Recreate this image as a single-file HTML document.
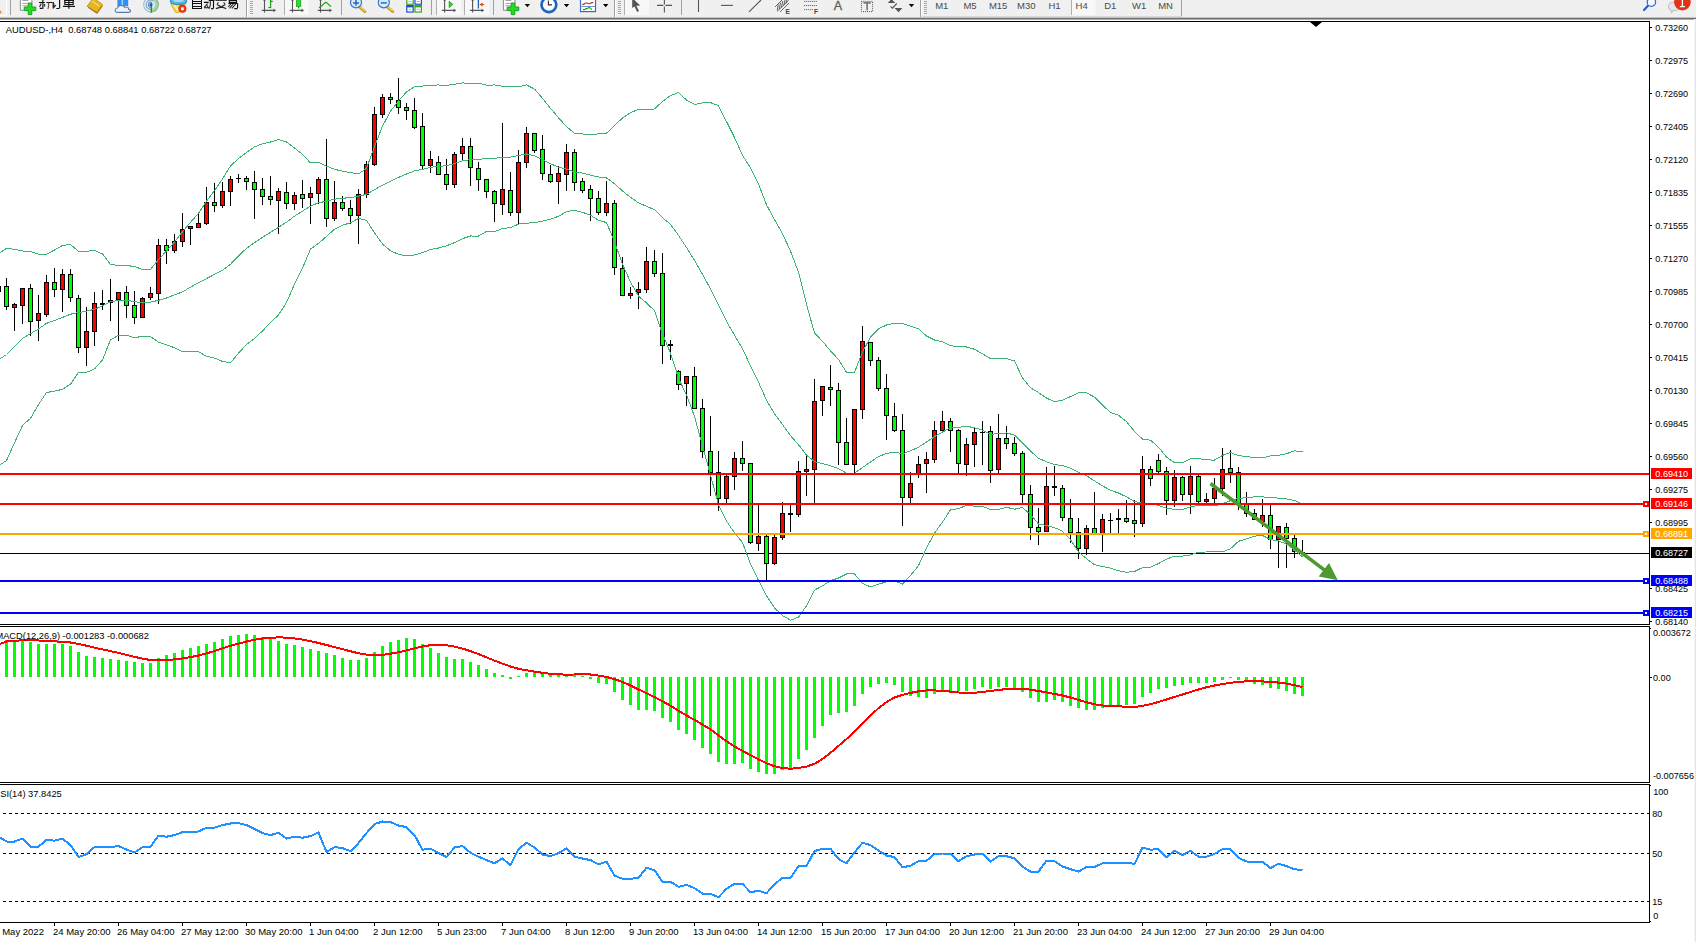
<!DOCTYPE html><html><head><meta charset="utf-8"><style>html,body{margin:0;padding:0;background:#fff}body{width:1696px;height:942px;overflow:hidden;position:relative;font-family:"Liberation Sans",sans-serif}</style></head><body><svg width="1696" height="942" viewBox="0 0 1696 942" style="position:absolute;left:0;top:0;font-family:'Liberation Sans',sans-serif">
<rect x="0" y="0" width="1696" height="942" fill="#fff"/>
<defs><clipPath id="cm"><rect x="0" y="22" width="1649" height="602"/></clipPath><clipPath id="cmacd"><rect x="0" y="627" width="1649" height="155"/></clipPath><clipPath id="ctb"><rect x="0" y="0" width="1696" height="17"/></clipPath><clipPath id="crsi"><rect x="0" y="785" width="1649" height="137"/></clipPath></defs>
<g clip-path="url(#cm)">
<rect x="0" y="553" width="1649" height="1" fill="#000" shape-rendering="crispEdges"/>
<g shape-rendering="crispEdges">
<rect x="0" y="286" width="1" height="6" fill="#000"/>
<rect x="6" y="278" width="1" height="32" fill="#000"/>
<rect x="4" y="286" width="5" height="21" fill="#000"/>
<rect x="5" y="287" width="3" height="19" fill="#00ff00"/>
<rect x="14" y="303" width="1" height="28" fill="#000"/>
<rect x="12" y="304" width="5" height="4" fill="#000"/>
<rect x="13" y="305" width="3" height="2" fill="#ff0000"/>
<rect x="22" y="288" width="1" height="36" fill="#000"/>
<rect x="20" y="288" width="5" height="18" fill="#000"/>
<rect x="21" y="289" width="3" height="16" fill="#ff0000"/>
<rect x="30" y="284" width="1" height="52" fill="#000"/>
<rect x="28" y="288" width="5" height="34" fill="#000"/>
<rect x="29" y="289" width="3" height="32" fill="#00ff00"/>
<rect x="38" y="295" width="1" height="46" fill="#000"/>
<rect x="36" y="313" width="5" height="8" fill="#000"/>
<rect x="37" y="314" width="3" height="6" fill="#ff0000"/>
<rect x="46" y="275" width="1" height="42" fill="#000"/>
<rect x="44" y="282" width="5" height="33" fill="#000"/>
<rect x="45" y="283" width="3" height="31" fill="#ff0000"/>
<rect x="54" y="268" width="1" height="29" fill="#000"/>
<rect x="52" y="282" width="5" height="8" fill="#000"/>
<rect x="53" y="283" width="3" height="6" fill="#00ff00"/>
<rect x="62" y="269" width="1" height="43" fill="#000"/>
<rect x="60" y="274" width="5" height="16" fill="#000"/>
<rect x="61" y="275" width="3" height="14" fill="#ff0000"/>
<rect x="70" y="269" width="1" height="33" fill="#000"/>
<rect x="68" y="274" width="5" height="24" fill="#000"/>
<rect x="69" y="275" width="3" height="22" fill="#00ff00"/>
<rect x="78" y="295" width="1" height="58" fill="#000"/>
<rect x="76" y="298" width="5" height="50" fill="#000"/>
<rect x="77" y="299" width="3" height="48" fill="#00ff00"/>
<rect x="86" y="307" width="1" height="59" fill="#000"/>
<rect x="84" y="331" width="5" height="17" fill="#000"/>
<rect x="85" y="332" width="3" height="15" fill="#ff0000"/>
<rect x="94" y="292" width="1" height="54" fill="#000"/>
<rect x="92" y="303" width="5" height="29" fill="#000"/>
<rect x="93" y="304" width="3" height="27" fill="#ff0000"/>
<rect x="102" y="290" width="1" height="20" fill="#000"/>
<rect x="100" y="303" width="5" height="2" fill="#000"/>
<rect x="110" y="279" width="1" height="42" fill="#000"/>
<rect x="108" y="300" width="5" height="3" fill="#000"/>
<rect x="109" y="301" width="3" height="1" fill="#ff0000"/>
<rect x="118" y="292" width="1" height="49" fill="#000"/>
<rect x="116" y="292" width="5" height="8" fill="#000"/>
<rect x="117" y="293" width="3" height="6" fill="#ff0000"/>
<rect x="126" y="286" width="1" height="32" fill="#000"/>
<rect x="124" y="292" width="5" height="14" fill="#000"/>
<rect x="125" y="293" width="3" height="12" fill="#00ff00"/>
<rect x="134" y="291" width="1" height="33" fill="#000"/>
<rect x="132" y="305" width="5" height="13" fill="#000"/>
<rect x="133" y="306" width="3" height="11" fill="#00ff00"/>
<rect x="142" y="297" width="1" height="21" fill="#000"/>
<rect x="140" y="298" width="5" height="20" fill="#000"/>
<rect x="141" y="299" width="3" height="18" fill="#ff0000"/>
<rect x="150" y="287" width="1" height="13" fill="#000"/>
<rect x="148" y="293" width="5" height="5" fill="#000"/>
<rect x="149" y="294" width="3" height="3" fill="#ff0000"/>
<rect x="158" y="239" width="1" height="65" fill="#000"/>
<rect x="156" y="245" width="5" height="49" fill="#000"/>
<rect x="157" y="246" width="3" height="47" fill="#ff0000"/>
<rect x="166" y="239" width="1" height="25" fill="#000"/>
<rect x="164" y="245" width="5" height="6" fill="#000"/>
<rect x="165" y="246" width="3" height="4" fill="#00ff00"/>
<rect x="174" y="234" width="1" height="19" fill="#000"/>
<rect x="172" y="241" width="5" height="10" fill="#000"/>
<rect x="173" y="242" width="3" height="8" fill="#ff0000"/>
<rect x="182" y="213" width="1" height="34" fill="#000"/>
<rect x="180" y="229" width="5" height="13" fill="#000"/>
<rect x="181" y="230" width="3" height="11" fill="#ff0000"/>
<rect x="190" y="226" width="1" height="19" fill="#000"/>
<rect x="188" y="226" width="5" height="3" fill="#000"/>
<rect x="189" y="227" width="3" height="1" fill="#ff0000"/>
<rect x="198" y="214" width="1" height="14" fill="#000"/>
<rect x="196" y="223" width="5" height="5" fill="#000"/>
<rect x="197" y="224" width="3" height="3" fill="#ff0000"/>
<rect x="206" y="187" width="1" height="38" fill="#000"/>
<rect x="204" y="202" width="5" height="22" fill="#000"/>
<rect x="205" y="203" width="3" height="20" fill="#ff0000"/>
<rect x="214" y="183" width="1" height="29" fill="#000"/>
<rect x="212" y="202" width="5" height="4" fill="#000"/>
<rect x="213" y="203" width="3" height="2" fill="#00ff00"/>
<rect x="222" y="182" width="1" height="26" fill="#000"/>
<rect x="220" y="191" width="5" height="15" fill="#000"/>
<rect x="221" y="192" width="3" height="13" fill="#ff0000"/>
<rect x="230" y="176" width="1" height="30" fill="#000"/>
<rect x="228" y="179" width="5" height="13" fill="#000"/>
<rect x="229" y="180" width="3" height="11" fill="#ff0000"/>
<rect x="238" y="174" width="1" height="9" fill="#000"/>
<rect x="236" y="178" width="5" height="1" fill="#000"/>
<rect x="246" y="176" width="1" height="14" fill="#000"/>
<rect x="244" y="178" width="5" height="4" fill="#000"/>
<rect x="245" y="179" width="3" height="2" fill="#00ff00"/>
<rect x="254" y="171" width="1" height="48" fill="#000"/>
<rect x="252" y="182" width="5" height="8" fill="#000"/>
<rect x="253" y="183" width="3" height="6" fill="#00ff00"/>
<rect x="262" y="178" width="1" height="27" fill="#000"/>
<rect x="260" y="189" width="5" height="8" fill="#000"/>
<rect x="261" y="190" width="3" height="6" fill="#00ff00"/>
<rect x="270" y="176" width="1" height="29" fill="#000"/>
<rect x="268" y="196" width="5" height="4" fill="#000"/>
<rect x="269" y="197" width="3" height="2" fill="#00ff00"/>
<rect x="278" y="188" width="1" height="46" fill="#000"/>
<rect x="276" y="191" width="5" height="10" fill="#000"/>
<rect x="277" y="192" width="3" height="8" fill="#ff0000"/>
<rect x="286" y="182" width="1" height="27" fill="#000"/>
<rect x="284" y="192" width="5" height="12" fill="#000"/>
<rect x="285" y="193" width="3" height="10" fill="#00ff00"/>
<rect x="294" y="192" width="1" height="18" fill="#000"/>
<rect x="292" y="195" width="5" height="9" fill="#000"/>
<rect x="293" y="196" width="3" height="7" fill="#ff0000"/>
<rect x="302" y="180" width="1" height="28" fill="#000"/>
<rect x="300" y="194" width="5" height="5" fill="#000"/>
<rect x="301" y="195" width="3" height="3" fill="#00ff00"/>
<rect x="310" y="187" width="1" height="37" fill="#000"/>
<rect x="308" y="193" width="5" height="5" fill="#000"/>
<rect x="309" y="194" width="3" height="3" fill="#ff0000"/>
<rect x="318" y="177" width="1" height="27" fill="#000"/>
<rect x="316" y="179" width="5" height="15" fill="#000"/>
<rect x="317" y="180" width="3" height="13" fill="#ff0000"/>
<rect x="326" y="139" width="1" height="88" fill="#000"/>
<rect x="324" y="179" width="5" height="40" fill="#000"/>
<rect x="325" y="180" width="3" height="38" fill="#00ff00"/>
<rect x="334" y="181" width="1" height="40" fill="#000"/>
<rect x="332" y="202" width="5" height="17" fill="#000"/>
<rect x="333" y="203" width="3" height="15" fill="#ff0000"/>
<rect x="342" y="196" width="1" height="15" fill="#000"/>
<rect x="340" y="202" width="5" height="7" fill="#000"/>
<rect x="341" y="203" width="3" height="5" fill="#00ff00"/>
<rect x="350" y="200" width="1" height="24" fill="#000"/>
<rect x="348" y="208" width="5" height="8" fill="#000"/>
<rect x="349" y="209" width="3" height="6" fill="#00ff00"/>
<rect x="358" y="189" width="1" height="55" fill="#000"/>
<rect x="356" y="194" width="5" height="22" fill="#000"/>
<rect x="357" y="195" width="3" height="20" fill="#ff0000"/>
<rect x="366" y="161" width="1" height="37" fill="#000"/>
<rect x="364" y="164" width="5" height="31" fill="#000"/>
<rect x="365" y="165" width="3" height="29" fill="#ff0000"/>
<rect x="374" y="107" width="1" height="59" fill="#000"/>
<rect x="372" y="114" width="5" height="51" fill="#000"/>
<rect x="373" y="115" width="3" height="49" fill="#ff0000"/>
<rect x="382" y="94" width="1" height="24" fill="#000"/>
<rect x="380" y="97" width="5" height="18" fill="#000"/>
<rect x="381" y="98" width="3" height="16" fill="#ff0000"/>
<rect x="390" y="93" width="1" height="11" fill="#000"/>
<rect x="388" y="97" width="5" height="3" fill="#000"/>
<rect x="389" y="98" width="3" height="1" fill="#00ff00"/>
<rect x="398" y="78" width="1" height="36" fill="#000"/>
<rect x="396" y="100" width="5" height="8" fill="#000"/>
<rect x="397" y="101" width="3" height="6" fill="#00ff00"/>
<rect x="406" y="103" width="1" height="17" fill="#000"/>
<rect x="404" y="107" width="5" height="4" fill="#000"/>
<rect x="405" y="108" width="3" height="2" fill="#00ff00"/>
<rect x="414" y="98" width="1" height="31" fill="#000"/>
<rect x="412" y="110" width="5" height="18" fill="#000"/>
<rect x="413" y="111" width="3" height="16" fill="#00ff00"/>
<rect x="422" y="113" width="1" height="56" fill="#000"/>
<rect x="420" y="126" width="5" height="40" fill="#000"/>
<rect x="421" y="127" width="3" height="38" fill="#00ff00"/>
<rect x="430" y="151" width="1" height="22" fill="#000"/>
<rect x="428" y="159" width="5" height="7" fill="#000"/>
<rect x="429" y="160" width="3" height="5" fill="#ff0000"/>
<rect x="438" y="156" width="1" height="19" fill="#000"/>
<rect x="436" y="162" width="5" height="13" fill="#000"/>
<rect x="437" y="163" width="3" height="11" fill="#00ff00"/>
<rect x="446" y="159" width="1" height="31" fill="#000"/>
<rect x="444" y="174" width="5" height="11" fill="#000"/>
<rect x="445" y="175" width="3" height="9" fill="#00ff00"/>
<rect x="454" y="152" width="1" height="36" fill="#000"/>
<rect x="452" y="154" width="5" height="31" fill="#000"/>
<rect x="453" y="155" width="3" height="29" fill="#ff0000"/>
<rect x="462" y="138" width="1" height="22" fill="#000"/>
<rect x="460" y="146" width="5" height="8" fill="#000"/>
<rect x="461" y="147" width="3" height="6" fill="#ff0000"/>
<rect x="470" y="138" width="1" height="48" fill="#000"/>
<rect x="468" y="146" width="5" height="22" fill="#000"/>
<rect x="469" y="147" width="3" height="20" fill="#00ff00"/>
<rect x="478" y="162" width="1" height="29" fill="#000"/>
<rect x="476" y="168" width="5" height="12" fill="#000"/>
<rect x="477" y="169" width="3" height="10" fill="#00ff00"/>
<rect x="486" y="179" width="1" height="19" fill="#000"/>
<rect x="484" y="179" width="5" height="13" fill="#000"/>
<rect x="485" y="180" width="3" height="11" fill="#00ff00"/>
<rect x="494" y="190" width="1" height="32" fill="#000"/>
<rect x="492" y="191" width="5" height="13" fill="#000"/>
<rect x="493" y="192" width="3" height="11" fill="#00ff00"/>
<rect x="502" y="123" width="1" height="92" fill="#000"/>
<rect x="500" y="189" width="5" height="16" fill="#000"/>
<rect x="501" y="190" width="3" height="14" fill="#ff0000"/>
<rect x="510" y="172" width="1" height="44" fill="#000"/>
<rect x="508" y="190" width="5" height="23" fill="#000"/>
<rect x="509" y="191" width="3" height="21" fill="#00ff00"/>
<rect x="518" y="150" width="1" height="75" fill="#000"/>
<rect x="516" y="162" width="5" height="51" fill="#000"/>
<rect x="517" y="163" width="3" height="49" fill="#ff0000"/>
<rect x="526" y="127" width="1" height="41" fill="#000"/>
<rect x="524" y="133" width="5" height="30" fill="#000"/>
<rect x="525" y="134" width="3" height="28" fill="#ff0000"/>
<rect x="534" y="133" width="1" height="20" fill="#000"/>
<rect x="532" y="133" width="5" height="18" fill="#000"/>
<rect x="533" y="134" width="3" height="16" fill="#00ff00"/>
<rect x="542" y="135" width="1" height="45" fill="#000"/>
<rect x="540" y="149" width="5" height="25" fill="#000"/>
<rect x="541" y="150" width="3" height="23" fill="#00ff00"/>
<rect x="550" y="165" width="1" height="18" fill="#000"/>
<rect x="548" y="174" width="5" height="8" fill="#000"/>
<rect x="549" y="175" width="3" height="6" fill="#00ff00"/>
<rect x="558" y="166" width="1" height="38" fill="#000"/>
<rect x="556" y="173" width="5" height="9" fill="#000"/>
<rect x="557" y="174" width="3" height="7" fill="#ff0000"/>
<rect x="566" y="144" width="1" height="47" fill="#000"/>
<rect x="564" y="152" width="5" height="23" fill="#000"/>
<rect x="565" y="153" width="3" height="21" fill="#ff0000"/>
<rect x="574" y="149" width="1" height="42" fill="#000"/>
<rect x="572" y="152" width="5" height="31" fill="#000"/>
<rect x="573" y="153" width="3" height="29" fill="#00ff00"/>
<rect x="582" y="178" width="1" height="15" fill="#000"/>
<rect x="580" y="181" width="5" height="10" fill="#000"/>
<rect x="581" y="182" width="3" height="8" fill="#00ff00"/>
<rect x="590" y="185" width="1" height="36" fill="#000"/>
<rect x="588" y="189" width="5" height="10" fill="#000"/>
<rect x="589" y="190" width="3" height="8" fill="#00ff00"/>
<rect x="598" y="191" width="1" height="24" fill="#000"/>
<rect x="596" y="198" width="5" height="15" fill="#000"/>
<rect x="597" y="199" width="3" height="13" fill="#00ff00"/>
<rect x="606" y="181" width="1" height="35" fill="#000"/>
<rect x="604" y="203" width="5" height="10" fill="#000"/>
<rect x="605" y="204" width="3" height="8" fill="#ff0000"/>
<rect x="614" y="200" width="1" height="75" fill="#000"/>
<rect x="612" y="203" width="5" height="65" fill="#000"/>
<rect x="613" y="204" width="3" height="63" fill="#00ff00"/>
<rect x="622" y="257" width="1" height="39" fill="#000"/>
<rect x="620" y="268" width="5" height="28" fill="#000"/>
<rect x="621" y="269" width="3" height="26" fill="#00ff00"/>
<rect x="630" y="287" width="1" height="12" fill="#000"/>
<rect x="628" y="293" width="5" height="3" fill="#000"/>
<rect x="629" y="294" width="3" height="1" fill="#ff0000"/>
<rect x="638" y="282" width="1" height="27" fill="#000"/>
<rect x="636" y="289" width="5" height="4" fill="#000"/>
<rect x="637" y="290" width="3" height="2" fill="#ff0000"/>
<rect x="646" y="247" width="1" height="46" fill="#000"/>
<rect x="644" y="261" width="5" height="29" fill="#000"/>
<rect x="645" y="262" width="3" height="27" fill="#ff0000"/>
<rect x="654" y="250" width="1" height="27" fill="#000"/>
<rect x="652" y="261" width="5" height="13" fill="#000"/>
<rect x="653" y="262" width="3" height="11" fill="#00ff00"/>
<rect x="662" y="253" width="1" height="111" fill="#000"/>
<rect x="660" y="273" width="5" height="73" fill="#000"/>
<rect x="661" y="274" width="3" height="71" fill="#00ff00"/>
<rect x="670" y="340" width="1" height="20" fill="#000"/>
<rect x="668" y="344" width="5" height="2" fill="#000"/>
<rect x="678" y="370" width="1" height="20" fill="#000"/>
<rect x="676" y="371" width="5" height="14" fill="#000"/>
<rect x="677" y="372" width="3" height="12" fill="#00ff00"/>
<rect x="686" y="376" width="1" height="30" fill="#000"/>
<rect x="684" y="376" width="5" height="8" fill="#000"/>
<rect x="685" y="377" width="3" height="6" fill="#ff0000"/>
<rect x="694" y="367" width="1" height="42" fill="#000"/>
<rect x="692" y="376" width="5" height="33" fill="#000"/>
<rect x="693" y="377" width="3" height="31" fill="#00ff00"/>
<rect x="702" y="399" width="1" height="59" fill="#000"/>
<rect x="700" y="408" width="5" height="44" fill="#000"/>
<rect x="701" y="409" width="3" height="42" fill="#00ff00"/>
<rect x="710" y="416" width="1" height="80" fill="#000"/>
<rect x="708" y="451" width="5" height="22" fill="#000"/>
<rect x="709" y="452" width="3" height="20" fill="#00ff00"/>
<rect x="718" y="451" width="1" height="60" fill="#000"/>
<rect x="716" y="472" width="5" height="27" fill="#000"/>
<rect x="717" y="473" width="3" height="25" fill="#00ff00"/>
<rect x="726" y="475" width="1" height="28" fill="#000"/>
<rect x="724" y="476" width="5" height="23" fill="#000"/>
<rect x="725" y="477" width="3" height="21" fill="#ff0000"/>
<rect x="734" y="452" width="1" height="38" fill="#000"/>
<rect x="732" y="458" width="5" height="19" fill="#000"/>
<rect x="733" y="459" width="3" height="17" fill="#ff0000"/>
<rect x="742" y="441" width="1" height="30" fill="#000"/>
<rect x="740" y="458" width="5" height="6" fill="#000"/>
<rect x="741" y="459" width="3" height="4" fill="#00ff00"/>
<rect x="750" y="463" width="1" height="81" fill="#000"/>
<rect x="748" y="463" width="5" height="80" fill="#000"/>
<rect x="749" y="464" width="3" height="78" fill="#00ff00"/>
<rect x="758" y="505" width="1" height="46" fill="#000"/>
<rect x="756" y="536" width="5" height="8" fill="#000"/>
<rect x="757" y="537" width="3" height="6" fill="#ff0000"/>
<rect x="766" y="535" width="1" height="45" fill="#000"/>
<rect x="764" y="536" width="5" height="28" fill="#000"/>
<rect x="765" y="537" width="3" height="26" fill="#00ff00"/>
<rect x="774" y="535" width="1" height="30" fill="#000"/>
<rect x="772" y="537" width="5" height="27" fill="#000"/>
<rect x="773" y="538" width="3" height="25" fill="#ff0000"/>
<rect x="782" y="502" width="1" height="38" fill="#000"/>
<rect x="780" y="513" width="5" height="25" fill="#000"/>
<rect x="781" y="514" width="3" height="23" fill="#ff0000"/>
<rect x="790" y="505" width="1" height="27" fill="#000"/>
<rect x="788" y="513" width="5" height="2" fill="#000"/>
<rect x="798" y="461" width="1" height="56" fill="#000"/>
<rect x="796" y="471" width="5" height="44" fill="#000"/>
<rect x="797" y="472" width="3" height="42" fill="#ff0000"/>
<rect x="806" y="454" width="1" height="42" fill="#000"/>
<rect x="804" y="469" width="5" height="3" fill="#000"/>
<rect x="805" y="470" width="3" height="1" fill="#ff0000"/>
<rect x="814" y="379" width="1" height="124" fill="#000"/>
<rect x="812" y="401" width="5" height="69" fill="#000"/>
<rect x="813" y="402" width="3" height="67" fill="#ff0000"/>
<rect x="822" y="386" width="1" height="30" fill="#000"/>
<rect x="820" y="386" width="5" height="15" fill="#000"/>
<rect x="821" y="387" width="3" height="13" fill="#ff0000"/>
<rect x="830" y="365" width="1" height="41" fill="#000"/>
<rect x="828" y="387" width="5" height="3" fill="#000"/>
<rect x="829" y="388" width="3" height="1" fill="#00ff00"/>
<rect x="838" y="383" width="1" height="82" fill="#000"/>
<rect x="836" y="390" width="5" height="53" fill="#000"/>
<rect x="837" y="391" width="3" height="51" fill="#00ff00"/>
<rect x="846" y="418" width="1" height="47" fill="#000"/>
<rect x="844" y="442" width="5" height="23" fill="#000"/>
<rect x="845" y="443" width="3" height="21" fill="#00ff00"/>
<rect x="854" y="409" width="1" height="64" fill="#000"/>
<rect x="852" y="409" width="5" height="56" fill="#000"/>
<rect x="853" y="410" width="3" height="54" fill="#ff0000"/>
<rect x="862" y="326" width="1" height="93" fill="#000"/>
<rect x="860" y="341" width="5" height="69" fill="#000"/>
<rect x="861" y="342" width="3" height="67" fill="#ff0000"/>
<rect x="870" y="342" width="1" height="24" fill="#000"/>
<rect x="868" y="342" width="5" height="19" fill="#000"/>
<rect x="869" y="343" width="3" height="17" fill="#00ff00"/>
<rect x="878" y="357" width="1" height="34" fill="#000"/>
<rect x="876" y="360" width="5" height="29" fill="#000"/>
<rect x="877" y="361" width="3" height="27" fill="#00ff00"/>
<rect x="886" y="374" width="1" height="66" fill="#000"/>
<rect x="884" y="388" width="5" height="28" fill="#000"/>
<rect x="885" y="389" width="3" height="26" fill="#00ff00"/>
<rect x="894" y="403" width="1" height="29" fill="#000"/>
<rect x="892" y="416" width="5" height="15" fill="#000"/>
<rect x="893" y="417" width="3" height="13" fill="#00ff00"/>
<rect x="902" y="414" width="1" height="112" fill="#000"/>
<rect x="900" y="430" width="5" height="68" fill="#000"/>
<rect x="901" y="431" width="3" height="66" fill="#00ff00"/>
<rect x="910" y="472" width="1" height="31" fill="#000"/>
<rect x="908" y="483" width="5" height="15" fill="#000"/>
<rect x="909" y="484" width="3" height="13" fill="#ff0000"/>
<rect x="918" y="456" width="1" height="22" fill="#000"/>
<rect x="916" y="464" width="5" height="10" fill="#000"/>
<rect x="917" y="465" width="3" height="8" fill="#ff0000"/>
<rect x="926" y="452" width="1" height="41" fill="#000"/>
<rect x="924" y="459" width="5" height="5" fill="#000"/>
<rect x="925" y="460" width="3" height="3" fill="#ff0000"/>
<rect x="934" y="421" width="1" height="42" fill="#000"/>
<rect x="932" y="430" width="5" height="30" fill="#000"/>
<rect x="933" y="431" width="3" height="28" fill="#ff0000"/>
<rect x="942" y="411" width="1" height="21" fill="#000"/>
<rect x="940" y="421" width="5" height="10" fill="#000"/>
<rect x="941" y="422" width="3" height="8" fill="#ff0000"/>
<rect x="950" y="418" width="1" height="34" fill="#000"/>
<rect x="948" y="421" width="5" height="10" fill="#000"/>
<rect x="949" y="422" width="3" height="8" fill="#00ff00"/>
<rect x="958" y="429" width="1" height="45" fill="#000"/>
<rect x="956" y="430" width="5" height="34" fill="#000"/>
<rect x="957" y="431" width="3" height="32" fill="#00ff00"/>
<rect x="966" y="438" width="1" height="38" fill="#000"/>
<rect x="964" y="444" width="5" height="21" fill="#000"/>
<rect x="965" y="445" width="3" height="19" fill="#ff0000"/>
<rect x="974" y="428" width="1" height="39" fill="#000"/>
<rect x="972" y="432" width="5" height="13" fill="#000"/>
<rect x="973" y="433" width="3" height="11" fill="#ff0000"/>
<rect x="982" y="421" width="1" height="44" fill="#000"/>
<rect x="980" y="432" width="5" height="1" fill="#000"/>
<rect x="990" y="426" width="1" height="57" fill="#000"/>
<rect x="988" y="431" width="5" height="40" fill="#000"/>
<rect x="989" y="432" width="3" height="38" fill="#00ff00"/>
<rect x="998" y="414" width="1" height="59" fill="#000"/>
<rect x="996" y="438" width="5" height="32" fill="#000"/>
<rect x="997" y="439" width="3" height="30" fill="#ff0000"/>
<rect x="1006" y="426" width="1" height="23" fill="#000"/>
<rect x="1004" y="438" width="5" height="6" fill="#000"/>
<rect x="1005" y="439" width="3" height="4" fill="#00ff00"/>
<rect x="1014" y="437" width="1" height="19" fill="#000"/>
<rect x="1012" y="443" width="5" height="11" fill="#000"/>
<rect x="1013" y="444" width="3" height="9" fill="#00ff00"/>
<rect x="1022" y="451" width="1" height="52" fill="#000"/>
<rect x="1020" y="453" width="5" height="42" fill="#000"/>
<rect x="1021" y="454" width="3" height="40" fill="#00ff00"/>
<rect x="1030" y="485" width="1" height="55" fill="#000"/>
<rect x="1028" y="494" width="5" height="34" fill="#000"/>
<rect x="1029" y="495" width="3" height="32" fill="#00ff00"/>
<rect x="1038" y="508" width="1" height="37" fill="#000"/>
<rect x="1036" y="527" width="5" height="5" fill="#000"/>
<rect x="1037" y="528" width="3" height="3" fill="#00ff00"/>
<rect x="1046" y="467" width="1" height="65" fill="#000"/>
<rect x="1044" y="486" width="5" height="46" fill="#000"/>
<rect x="1045" y="487" width="3" height="44" fill="#ff0000"/>
<rect x="1054" y="466" width="1" height="30" fill="#000"/>
<rect x="1052" y="486" width="5" height="2" fill="#000"/>
<rect x="1062" y="485" width="1" height="36" fill="#000"/>
<rect x="1060" y="488" width="5" height="30" fill="#000"/>
<rect x="1061" y="489" width="3" height="28" fill="#00ff00"/>
<rect x="1070" y="499" width="1" height="44" fill="#000"/>
<rect x="1068" y="518" width="5" height="15" fill="#000"/>
<rect x="1069" y="519" width="3" height="13" fill="#00ff00"/>
<rect x="1078" y="518" width="1" height="41" fill="#000"/>
<rect x="1076" y="532" width="5" height="17" fill="#000"/>
<rect x="1077" y="533" width="3" height="15" fill="#00ff00"/>
<rect x="1086" y="525" width="1" height="30" fill="#000"/>
<rect x="1084" y="528" width="5" height="21" fill="#000"/>
<rect x="1085" y="529" width="3" height="19" fill="#ff0000"/>
<rect x="1094" y="492" width="1" height="42" fill="#000"/>
<rect x="1092" y="528" width="5" height="6" fill="#000"/>
<rect x="1093" y="529" width="3" height="4" fill="#00ff00"/>
<rect x="1102" y="514" width="1" height="38" fill="#000"/>
<rect x="1100" y="519" width="5" height="15" fill="#000"/>
<rect x="1101" y="520" width="3" height="13" fill="#ff0000"/>
<rect x="1110" y="513" width="1" height="21" fill="#000"/>
<rect x="1108" y="520" width="5" height="1" fill="#000"/>
<rect x="1118" y="509" width="1" height="24" fill="#000"/>
<rect x="1116" y="518" width="5" height="2" fill="#000"/>
<rect x="1126" y="500" width="1" height="23" fill="#000"/>
<rect x="1124" y="518" width="5" height="4" fill="#000"/>
<rect x="1125" y="519" width="3" height="2" fill="#00ff00"/>
<rect x="1134" y="500" width="1" height="37" fill="#000"/>
<rect x="1132" y="520" width="5" height="4" fill="#000"/>
<rect x="1133" y="521" width="3" height="2" fill="#00ff00"/>
<rect x="1142" y="456" width="1" height="71" fill="#000"/>
<rect x="1140" y="469" width="5" height="55" fill="#000"/>
<rect x="1141" y="470" width="3" height="53" fill="#ff0000"/>
<rect x="1150" y="466" width="1" height="20" fill="#000"/>
<rect x="1148" y="469" width="5" height="10" fill="#000"/>
<rect x="1149" y="470" width="3" height="8" fill="#00ff00"/>
<rect x="1158" y="454" width="1" height="19" fill="#000"/>
<rect x="1156" y="460" width="5" height="12" fill="#000"/>
<rect x="1157" y="461" width="3" height="10" fill="#00ff00"/>
<rect x="1166" y="467" width="1" height="48" fill="#000"/>
<rect x="1164" y="471" width="5" height="30" fill="#000"/>
<rect x="1165" y="472" width="3" height="28" fill="#00ff00"/>
<rect x="1174" y="470" width="1" height="37" fill="#000"/>
<rect x="1172" y="477" width="5" height="24" fill="#000"/>
<rect x="1173" y="478" width="3" height="22" fill="#ff0000"/>
<rect x="1182" y="476" width="1" height="25" fill="#000"/>
<rect x="1180" y="477" width="5" height="18" fill="#000"/>
<rect x="1181" y="478" width="3" height="16" fill="#00ff00"/>
<rect x="1190" y="466" width="1" height="48" fill="#000"/>
<rect x="1188" y="476" width="5" height="19" fill="#000"/>
<rect x="1189" y="477" width="3" height="17" fill="#ff0000"/>
<rect x="1198" y="475" width="1" height="28" fill="#000"/>
<rect x="1196" y="476" width="5" height="26" fill="#000"/>
<rect x="1197" y="477" width="3" height="24" fill="#00ff00"/>
<rect x="1206" y="493" width="1" height="10" fill="#000"/>
<rect x="1204" y="499" width="5" height="3" fill="#000"/>
<rect x="1205" y="500" width="3" height="1" fill="#ff0000"/>
<rect x="1214" y="478" width="1" height="25" fill="#000"/>
<rect x="1212" y="488" width="5" height="11" fill="#000"/>
<rect x="1213" y="489" width="3" height="9" fill="#ff0000"/>
<rect x="1222" y="448" width="1" height="48" fill="#000"/>
<rect x="1220" y="469" width="5" height="20" fill="#000"/>
<rect x="1221" y="470" width="3" height="18" fill="#ff0000"/>
<rect x="1230" y="450" width="1" height="33" fill="#000"/>
<rect x="1228" y="468" width="5" height="5" fill="#000"/>
<rect x="1229" y="469" width="3" height="3" fill="#00ff00"/>
<rect x="1238" y="467" width="1" height="43" fill="#000"/>
<rect x="1236" y="472" width="5" height="33" fill="#000"/>
<rect x="1237" y="473" width="3" height="31" fill="#00ff00"/>
<rect x="1246" y="492" width="1" height="25" fill="#000"/>
<rect x="1244" y="504" width="5" height="10" fill="#000"/>
<rect x="1245" y="505" width="3" height="8" fill="#00ff00"/>
<rect x="1254" y="509" width="1" height="11" fill="#000"/>
<rect x="1252" y="513" width="5" height="7" fill="#000"/>
<rect x="1253" y="514" width="3" height="5" fill="#00ff00"/>
<rect x="1262" y="499" width="1" height="28" fill="#000"/>
<rect x="1260" y="515" width="5" height="7" fill="#000"/>
<rect x="1261" y="516" width="3" height="5" fill="#ff0000"/>
<rect x="1270" y="505" width="1" height="44" fill="#000"/>
<rect x="1268" y="515" width="5" height="25" fill="#000"/>
<rect x="1269" y="516" width="3" height="23" fill="#00ff00"/>
<rect x="1278" y="526" width="1" height="42" fill="#000"/>
<rect x="1276" y="526" width="5" height="14" fill="#000"/>
<rect x="1277" y="527" width="3" height="12" fill="#ff0000"/>
<rect x="1286" y="523" width="1" height="45" fill="#000"/>
<rect x="1284" y="527" width="5" height="12" fill="#000"/>
<rect x="1285" y="528" width="3" height="10" fill="#00ff00"/>
<rect x="1294" y="535" width="1" height="23" fill="#000"/>
<rect x="1292" y="538" width="5" height="14" fill="#000"/>
<rect x="1293" y="539" width="3" height="12" fill="#00ff00"/>
<rect x="1302" y="540" width="1" height="14" fill="#000"/>
<rect x="1300" y="552" width="5" height="2" fill="#000"/>
</g>
<polyline points="0,252.8 6.5,248.2 14.5,249.3 22.5,251.0 30.5,251.3 38.5,254.3 46.5,254.3 54.5,250.0 62.5,245.5 70.5,244.5 78.5,251.3 86.5,251.3 94.5,250.5 102.5,254.0 110.5,264.4 118.5,265.4 126.5,265.4 134.5,266.6 142.5,269.4 150.5,269.4 158.5,259.6 166.5,251.0 174.5,241.9 182.5,231.8 190.5,222.3 198.5,213.4 206.5,201.0 214.5,190.7 222.5,179.0 230.5,165.9 238.5,158.5 246.5,152.4 254.5,146.9 262.5,143.8 270.5,142.0 278.5,139.7 286.5,141.9 294.5,148.1 302.5,154.2 310.5,163.0 318.5,162.2 326.5,166.1 334.5,169.3 342.5,171.2 350.5,172.6 358.5,174.0 366.5,168.3 374.5,146.7 382.5,126.1 390.5,111.3 398.5,100.8 406.5,92.0 414.5,86.8 422.5,86.1 430.5,85.1 438.5,85.0 446.5,85.3 454.5,84.3 462.5,83.0 470.5,83.1 478.5,83.1 486.5,85.1 494.5,85.0 502.5,86.2 510.5,86.6 518.5,87.0 526.5,84.9 534.5,89.1 542.5,98.3 550.5,108.3 558.5,117.8 566.5,126.5 574.5,133.4 582.5,134.0 590.5,135.0 598.5,133.7 606.5,133.2 614.5,125.6 622.5,117.9 630.5,112.6 638.5,109.5 646.5,109.8 654.5,109.0 662.5,101.4 670.5,95.6 678.5,92.5 686.5,100.1 694.5,104.4 702.5,102.9 710.5,102.6 718.5,105.7 726.5,121.6 734.5,137.5 742.5,155.3 750.5,167.9 758.5,184.0 766.5,204.8 774.5,219.6 782.5,233.8 790.5,251.1 798.5,272.3 806.5,304.4 814.5,333.0 822.5,341.3 830.5,350.9 838.5,359.4 846.5,372.3 854.5,372.4 862.5,351.8 870.5,337.2 878.5,328.9 886.5,325.0 894.5,323.3 902.5,323.5 910.5,326.2 918.5,328.7 926.5,336.0 934.5,340.0 942.5,341.9 950.5,345.9 958.5,346.3 966.5,347.0 974.5,349.3 982.5,353.9 990.5,358.5 998.5,358.4 1006.5,358.5 1014.5,361.0 1022.5,377.9 1030.5,387.8 1038.5,392.5 1046.5,398.1 1054.5,401.7 1062.5,400.1 1070.5,396.6 1078.5,392.8 1086.5,392.8 1094.5,397.1 1102.5,405.1 1110.5,412.5 1118.5,415.3 1126.5,421.6 1134.5,431.5 1142.5,439.1 1150.5,440.2 1158.5,447.2 1166.5,457.2 1174.5,462.6 1182.5,462.6 1190.5,458.7 1198.5,458.5 1206.5,459.9 1214.5,460.1 1222.5,455.4 1230.5,452.5 1238.5,455.6 1246.5,456.5 1254.5,457.8 1262.5,458.0 1270.5,455.8 1278.5,455.3 1286.5,453.8 1294.5,450.7 1302.5,452.0" fill="none" stroke="#3cb371" stroke-width="1" shape-rendering="crispEdges"/>
<polyline points="0,358.8 6.5,354.5 14.5,346.3 22.5,338.3 30.5,333.7 38.5,329.0 46.5,323.4 54.5,320.5 62.5,317.4 70.5,314.2 78.5,312.6 86.5,311.2 94.5,309.3 102.5,305.9 110.5,301.9 118.5,300.3 126.5,300.3 134.5,301.7 142.5,302.7 150.5,302.2 158.5,300.3 166.5,298.0 174.5,294.8 182.5,291.9 190.5,287.1 198.5,282.6 206.5,278.6 214.5,274.4 222.5,270.2 230.5,264.3 238.5,255.8 246.5,248.4 254.5,242.7 262.5,237.3 270.5,232.3 278.5,227.3 286.5,222.2 294.5,216.1 302.5,211.1 310.5,206.1 318.5,202.8 326.5,201.2 334.5,199.2 342.5,198.2 350.5,197.7 358.5,196.2 366.5,194.3 374.5,189.8 382.5,185.1 390.5,181.1 398.5,177.5 406.5,174.0 414.5,170.9 422.5,169.3 430.5,167.3 438.5,166.5 446.5,165.6 454.5,163.5 462.5,160.9 470.5,159.6 478.5,159.6 486.5,158.2 494.5,158.3 502.5,157.3 510.5,157.2 518.5,155.6 526.5,154.0 534.5,155.8 542.5,159.7 550.5,163.8 558.5,167.1 566.5,169.1 574.5,171.9 582.5,173.1 590.5,175.1 598.5,177.0 606.5,177.9 614.5,183.6 622.5,191.0 630.5,197.3 638.5,202.9 646.5,206.3 654.5,209.8 662.5,217.7 670.5,224.3 678.5,235.4 686.5,247.5 694.5,260.4 702.5,274.4 710.5,288.9 718.5,305.1 726.5,321.3 734.5,335.1 742.5,348.8 750.5,366.0 758.5,382.2 766.5,400.2 774.5,413.7 782.5,424.6 790.5,435.6 798.5,444.7 806.5,455.1 814.5,461.5 822.5,463.6 830.5,465.8 838.5,468.7 846.5,473.1 854.5,473.2 862.5,467.6 870.5,462.0 878.5,456.5 886.5,453.5 894.5,452.1 902.5,453.8 910.5,450.8 918.5,447.2 926.5,442.0 934.5,436.6 942.5,432.0 950.5,427.9 958.5,427.4 966.5,426.2 974.5,427.8 982.5,430.1 990.5,434.1 998.5,433.9 1006.5,432.9 1014.5,435.1 1022.5,442.8 1030.5,451.1 1038.5,458.3 1046.5,461.8 1054.5,464.6 1062.5,465.6 1070.5,468.1 1078.5,472.3 1086.5,475.8 1094.5,480.9 1102.5,485.8 1110.5,490.3 1118.5,493.0 1126.5,496.9 1134.5,501.5 1142.5,503.3 1150.5,503.7 1158.5,505.4 1166.5,508.2 1174.5,509.4 1182.5,509.4 1190.5,506.8 1198.5,505.3 1206.5,505.9 1214.5,506.0 1222.5,503.6 1230.5,500.6 1238.5,498.4 1246.5,497.7 1254.5,496.9 1262.5,496.8 1270.5,497.7 1278.5,498.1 1286.5,498.9 1294.5,500.4 1302.5,504.5" fill="none" stroke="#3cb371" stroke-width="1" shape-rendering="crispEdges"/>
<polyline points="0,464.7 6.5,460.6 14.5,442.8 22.5,425.4 30.5,418.3 38.5,404.6 46.5,392.5 54.5,391.2 62.5,389.3 70.5,384.2 78.5,372.4 86.5,372.4 94.5,368.9 102.5,360.0 110.5,339.7 118.5,335.4 126.5,335.4 134.5,337.6 142.5,336.4 150.5,336.4 158.5,342.3 166.5,344.9 174.5,347.7 182.5,352.0 190.5,351.8 198.5,351.8 206.5,356.2 214.5,358.1 222.5,361.4 230.5,362.7 238.5,353.2 246.5,344.4 254.5,338.5 262.5,330.9 270.5,322.6 278.5,314.9 286.5,302.5 294.5,284.1 302.5,268.0 310.5,249.1 318.5,243.4 326.5,236.3 334.5,229.2 342.5,225.2 350.5,222.8 358.5,218.4 366.5,220.4 374.5,232.8 382.5,244.0 390.5,250.8 398.5,254.3 406.5,256.0 414.5,255.0 422.5,252.6 430.5,249.5 438.5,248.0 446.5,245.8 454.5,242.6 462.5,238.7 470.5,236.0 478.5,236.1 486.5,231.4 494.5,231.7 502.5,228.5 510.5,227.7 518.5,224.1 526.5,223.2 534.5,222.6 542.5,221.1 550.5,219.2 558.5,216.3 566.5,211.7 574.5,210.3 582.5,212.3 590.5,215.2 598.5,220.3 606.5,222.6 614.5,241.5 622.5,264.2 630.5,282.1 638.5,296.2 646.5,302.9 654.5,310.7 662.5,333.9 670.5,353.0 678.5,378.3 686.5,394.9 694.5,416.5 702.5,445.8 710.5,475.2 718.5,504.6 726.5,521.1 734.5,532.8 742.5,542.3 750.5,564.1 758.5,580.4 766.5,595.7 774.5,607.9 782.5,615.5 790.5,620.2 798.5,617.2 806.5,605.8 814.5,590.1 822.5,585.8 830.5,580.7 838.5,578.0 846.5,574.0 854.5,573.9 862.5,583.5 870.5,586.8 878.5,584.1 886.5,581.9 894.5,580.9 902.5,584.0 910.5,575.4 918.5,565.7 926.5,548.0 934.5,533.2 942.5,522.1 950.5,509.8 958.5,508.6 966.5,505.4 974.5,506.2 982.5,506.2 990.5,509.7 998.5,509.4 1006.5,507.3 1014.5,509.2 1022.5,507.6 1030.5,514.4 1038.5,524.0 1046.5,525.5 1054.5,527.6 1062.5,531.2 1070.5,539.6 1078.5,551.9 1086.5,558.7 1094.5,564.7 1102.5,566.5 1110.5,568.1 1118.5,570.8 1126.5,572.2 1134.5,571.5 1142.5,567.6 1150.5,567.3 1158.5,563.5 1166.5,559.2 1174.5,556.1 1182.5,556.1 1190.5,554.9 1198.5,552.1 1206.5,552.0 1214.5,551.9 1222.5,551.9 1230.5,548.7 1238.5,541.3 1246.5,538.9 1254.5,536.1 1262.5,535.5 1270.5,539.6 1278.5,540.9 1286.5,544.1 1294.5,550.0 1302.5,557.0" fill="none" stroke="#3cb371" stroke-width="1" shape-rendering="crispEdges"/>
<g shape-rendering="crispEdges">
<rect x="0" y="473" width="1649" height="2" fill="#ff0000"/>
<rect x="0" y="503" width="1649" height="2" fill="#ff0000"/>
<rect x="0" y="533" width="1649" height="2" fill="#ffa500"/>
<rect x="0" y="580" width="1649" height="2" fill="#0000ff"/>
<rect x="0" y="612" width="1649" height="2" fill="#0000ff"/>
</g>
<g fill="#4e9a30" stroke="none">
<polygon points="1209.4,484.9 1322.8,571.1 1318.7,576.5 1337.8,580.3 1329.0,562.9 1325.0,568.3 1211.6,482.1"/>
</g>
</g>
<g clip-path="url(#cmacd)">
<g shape-rendering="crispEdges" fill="#00ff00">
<rect x="5" y="640" width="3" height="37"/>
<rect x="13" y="640" width="3" height="37"/>
<rect x="21" y="640" width="3" height="37"/>
<rect x="29" y="642" width="3" height="35"/>
<rect x="37" y="644" width="3" height="33"/>
<rect x="45" y="644" width="3" height="33"/>
<rect x="53" y="644" width="3" height="33"/>
<rect x="61" y="644" width="3" height="33"/>
<rect x="69" y="646" width="3" height="31"/>
<rect x="77" y="652" width="3" height="25"/>
<rect x="85" y="656" width="3" height="21"/>
<rect x="93" y="657" width="3" height="20"/>
<rect x="101" y="658" width="3" height="19"/>
<rect x="109" y="659" width="3" height="18"/>
<rect x="117" y="660" width="3" height="17"/>
<rect x="125" y="661" width="3" height="16"/>
<rect x="133" y="662" width="3" height="15"/>
<rect x="141" y="663" width="3" height="14"/>
<rect x="149" y="663" width="3" height="14"/>
<rect x="157" y="658" width="3" height="19"/>
<rect x="165" y="655" width="3" height="22"/>
<rect x="173" y="653" width="3" height="24"/>
<rect x="181" y="650" width="3" height="27"/>
<rect x="189" y="648" width="3" height="29"/>
<rect x="197" y="646" width="3" height="31"/>
<rect x="205" y="644" width="3" height="33"/>
<rect x="213" y="642" width="3" height="35"/>
<rect x="221" y="639" width="3" height="38"/>
<rect x="229" y="636" width="3" height="41"/>
<rect x="237" y="635" width="3" height="42"/>
<rect x="245" y="634" width="3" height="43"/>
<rect x="253" y="635" width="3" height="42"/>
<rect x="261" y="637" width="3" height="40"/>
<rect x="269" y="639" width="3" height="38"/>
<rect x="277" y="641" width="3" height="36"/>
<rect x="285" y="644" width="3" height="33"/>
<rect x="293" y="645" width="3" height="32"/>
<rect x="301" y="647" width="3" height="30"/>
<rect x="309" y="649" width="3" height="28"/>
<rect x="317" y="651" width="3" height="26"/>
<rect x="325" y="653" width="3" height="24"/>
<rect x="333" y="655" width="3" height="22"/>
<rect x="341" y="658" width="3" height="19"/>
<rect x="349" y="660" width="3" height="17"/>
<rect x="357" y="660" width="3" height="17"/>
<rect x="365" y="658" width="3" height="19"/>
<rect x="373" y="652" width="3" height="25"/>
<rect x="381" y="646" width="3" height="31"/>
<rect x="389" y="642" width="3" height="35"/>
<rect x="397" y="640" width="3" height="37"/>
<rect x="405" y="638" width="3" height="39"/>
<rect x="413" y="639" width="3" height="38"/>
<rect x="421" y="644" width="3" height="33"/>
<rect x="429" y="648" width="3" height="29"/>
<rect x="437" y="653" width="3" height="24"/>
<rect x="445" y="657" width="3" height="20"/>
<rect x="453" y="659" width="3" height="18"/>
<rect x="461" y="659" width="3" height="18"/>
<rect x="469" y="662" width="3" height="15"/>
<rect x="477" y="665" width="3" height="12"/>
<rect x="485" y="669" width="3" height="8"/>
<rect x="493" y="673" width="3" height="4"/>
<rect x="501" y="675" width="3" height="2"/>
<rect x="509" y="677" width="3" height="2"/>
<rect x="517" y="676" width="3" height="1"/>
<rect x="525" y="673" width="3" height="4"/>
<rect x="533" y="672" width="3" height="5"/>
<rect x="541" y="673" width="3" height="4"/>
<rect x="549" y="674" width="3" height="3"/>
<rect x="557" y="674" width="3" height="3"/>
<rect x="565" y="674" width="3" height="3"/>
<rect x="573" y="674" width="3" height="3"/>
<rect x="581" y="676" width="3" height="1"/>
<rect x="589" y="677" width="3" height="2"/>
<rect x="597" y="677" width="3" height="6"/>
<rect x="605" y="677" width="3" height="7"/>
<rect x="613" y="677" width="3" height="15"/>
<rect x="621" y="677" width="3" height="23"/>
<rect x="629" y="677" width="3" height="28"/>
<rect x="637" y="677" width="3" height="33"/>
<rect x="645" y="677" width="3" height="33"/>
<rect x="653" y="677" width="3" height="34"/>
<rect x="661" y="677" width="3" height="41"/>
<rect x="669" y="677" width="3" height="45"/>
<rect x="677" y="677" width="3" height="53"/>
<rect x="685" y="677" width="3" height="57"/>
<rect x="693" y="677" width="3" height="63"/>
<rect x="701" y="677" width="3" height="71"/>
<rect x="709" y="677" width="3" height="77"/>
<rect x="717" y="677" width="3" height="85"/>
<rect x="725" y="677" width="3" height="87"/>
<rect x="733" y="677" width="3" height="87"/>
<rect x="741" y="677" width="3" height="86"/>
<rect x="749" y="677" width="3" height="92"/>
<rect x="757" y="677" width="3" height="95"/>
<rect x="765" y="677" width="3" height="97"/>
<rect x="773" y="677" width="3" height="97"/>
<rect x="781" y="677" width="3" height="93"/>
<rect x="789" y="677" width="3" height="91"/>
<rect x="797" y="677" width="3" height="82"/>
<rect x="805" y="677" width="3" height="73"/>
<rect x="813" y="677" width="3" height="61"/>
<rect x="821" y="677" width="3" height="49"/>
<rect x="829" y="677" width="3" height="38"/>
<rect x="837" y="677" width="3" height="36"/>
<rect x="845" y="677" width="3" height="35"/>
<rect x="853" y="677" width="3" height="29"/>
<rect x="861" y="677" width="3" height="17"/>
<rect x="869" y="677" width="3" height="10"/>
<rect x="877" y="677" width="3" height="7"/>
<rect x="885" y="677" width="3" height="6"/>
<rect x="893" y="677" width="3" height="8"/>
<rect x="901" y="677" width="3" height="15"/>
<rect x="909" y="677" width="3" height="19"/>
<rect x="917" y="677" width="3" height="20"/>
<rect x="925" y="677" width="3" height="21"/>
<rect x="933" y="677" width="3" height="17"/>
<rect x="941" y="677" width="3" height="14"/>
<rect x="949" y="677" width="3" height="14"/>
<rect x="957" y="677" width="3" height="14"/>
<rect x="965" y="677" width="3" height="14"/>
<rect x="973" y="677" width="3" height="12"/>
<rect x="981" y="677" width="3" height="10"/>
<rect x="989" y="677" width="3" height="12"/>
<rect x="997" y="677" width="3" height="10"/>
<rect x="1005" y="677" width="3" height="10"/>
<rect x="1013" y="677" width="3" height="11"/>
<rect x="1021" y="677" width="3" height="15"/>
<rect x="1029" y="677" width="3" height="21"/>
<rect x="1037" y="677" width="3" height="25"/>
<rect x="1045" y="677" width="3" height="25"/>
<rect x="1053" y="677" width="3" height="23"/>
<rect x="1061" y="677" width="3" height="25"/>
<rect x="1069" y="677" width="3" height="29"/>
<rect x="1077" y="677" width="3" height="31"/>
<rect x="1085" y="677" width="3" height="33"/>
<rect x="1093" y="677" width="3" height="33"/>
<rect x="1101" y="677" width="3" height="31"/>
<rect x="1109" y="677" width="3" height="30"/>
<rect x="1117" y="677" width="3" height="28"/>
<rect x="1125" y="677" width="3" height="28"/>
<rect x="1133" y="677" width="3" height="27"/>
<rect x="1141" y="677" width="3" height="20"/>
<rect x="1149" y="677" width="3" height="16"/>
<rect x="1157" y="677" width="3" height="12"/>
<rect x="1165" y="677" width="3" height="11"/>
<rect x="1173" y="677" width="3" height="9"/>
<rect x="1181" y="677" width="3" height="8"/>
<rect x="1189" y="677" width="3" height="6"/>
<rect x="1197" y="677" width="3" height="6"/>
<rect x="1205" y="677" width="3" height="6"/>
<rect x="1213" y="677" width="3" height="5"/>
<rect x="1221" y="677" width="3" height="3"/>
<rect x="1229" y="677" width="3" height="1"/>
<rect x="1237" y="677" width="3" height="3"/>
<rect x="1245" y="677" width="3" height="3"/>
<rect x="1253" y="677" width="3" height="7"/>
<rect x="1261" y="677" width="3" height="8"/>
<rect x="1269" y="677" width="3" height="11"/>
<rect x="1277" y="677" width="3" height="12"/>
<rect x="1285" y="677" width="3" height="14"/>
<rect x="1293" y="677" width="3" height="17"/>
<rect x="1301" y="677" width="3" height="19"/>
</g>
<polyline points="0,644 6.5,641.5 14.5,640.8 22.5,640.3 30.5,640.3 38.5,640.5 46.5,640.8 54.5,641.3 62.5,642.0 70.5,642.5 78.5,643.9 86.5,645.7 94.5,647.7 102.5,649.4 110.5,651.1 118.5,652.9 126.5,654.8 134.5,656.8 142.5,658.7 150.5,660.0 158.5,660.2 166.5,660.0 174.5,659.4 182.5,658.5 190.5,657.1 198.5,655.5 206.5,653.4 214.5,651.0 222.5,648.3 230.5,645.8 238.5,643.6 246.5,641.5 254.5,639.8 262.5,638.5 270.5,637.7 278.5,637.4 286.5,637.6 294.5,638.4 302.5,639.6 310.5,641.1 318.5,643.0 326.5,645.0 334.5,647.1 342.5,649.2 350.5,651.3 358.5,653.2 366.5,654.6 374.5,655.1 382.5,654.8 390.5,653.7 398.5,652.3 406.5,650.3 414.5,648.3 422.5,646.5 430.5,645.2 438.5,644.6 446.5,645.2 454.5,646.6 462.5,648.6 470.5,651.1 478.5,654.1 486.5,657.4 494.5,660.6 502.5,663.6 510.5,666.5 518.5,668.8 526.5,670.3 534.5,671.6 542.5,672.8 550.5,673.8 558.5,674.4 566.5,674.6 574.5,674.5 582.5,674.2 590.5,674.5 598.5,675.6 606.5,677.0 614.5,679.1 622.5,682.0 630.5,685.4 638.5,689.4 646.5,693.3 654.5,697.1 662.5,701.3 670.5,705.7 678.5,710.8 686.5,715.4 694.5,719.9 702.5,724.5 710.5,729.5 718.5,735.3 726.5,741.3 734.5,746.4 742.5,750.9 750.5,755.2 758.5,759.4 766.5,763.3 774.5,766.2 782.5,768.0 790.5,768.7 798.5,768.0 806.5,766.6 814.5,763.8 822.5,759.0 830.5,752.8 838.5,745.9 846.5,739.0 854.5,731.8 862.5,723.5 870.5,715.6 878.5,708.1 886.5,702.0 894.5,697.5 902.5,694.9 910.5,692.9 918.5,691.3 926.5,690.4 934.5,690.4 942.5,690.9 950.5,691.6 958.5,692.5 966.5,693.2 974.5,692.8 982.5,691.9 990.5,691.0 998.5,689.9 1006.5,689.1 1014.5,688.8 1022.5,688.9 1030.5,689.7 1038.5,691.0 1046.5,692.4 1054.5,693.9 1062.5,695.5 1070.5,697.5 1078.5,699.9 1086.5,702.3 1094.5,704.2 1102.5,705.5 1110.5,705.9 1118.5,706.3 1126.5,706.8 1134.5,706.9 1142.5,705.9 1150.5,704.2 1158.5,701.9 1166.5,699.5 1174.5,696.9 1182.5,694.5 1190.5,692.0 1198.5,689.5 1206.5,687.2 1214.5,685.5 1222.5,684.0 1230.5,682.8 1238.5,681.9 1246.5,681.3 1254.5,681.2 1262.5,681.4 1270.5,681.9 1278.5,682.6 1286.5,683.6 1294.5,685.2 1302.5,687.2" fill="none" stroke="#ff0000" stroke-width="2" stroke-linejoin="round" shape-rendering="crispEdges"/>
</g>
<g clip-path="url(#crsi)">
<line x1="3" y1="813.5" x2="1649" y2="813.5" stroke="#000" stroke-width="1" stroke-dasharray="3 3" shape-rendering="crispEdges"/>
<line x1="3" y1="853.5" x2="1649" y2="853.5" stroke="#000" stroke-width="1" stroke-dasharray="3 3" shape-rendering="crispEdges"/>
<line x1="3" y1="901.5" x2="1649" y2="901.5" stroke="#000" stroke-width="1" stroke-dasharray="3 3" shape-rendering="crispEdges"/>
<polyline points="0,837.5 6.5,841.5 14.5,841.5 22.5,838.7 30.5,846.7 38.5,846.7 46.5,839.7 54.5,840.7 62.5,838.7 70.5,845.1 78.5,857.1 86.5,854.1 94.5,847.1 102.5,847.1 110.5,847.1 118.5,846.1 126.5,849.5 134.5,852.5 142.5,847.1 150.5,846.7 158.5,835.7 166.5,836.7 174.5,835.1 182.5,832.1 190.5,831.7 198.5,831.5 206.5,827.7 214.5,827.7 222.5,825.1 230.5,823.5 238.5,823.1 246.5,825.1 254.5,829.1 262.5,833.1 270.5,835.1 278.5,832.7 286.5,838.7 294.5,836.7 302.5,837.7 310.5,836.1 318.5,832.5 326.5,852.1 334.5,847.1 342.5,848.1 350.5,851.1 358.5,843.1 366.5,833.1 374.5,824.1 382.5,821.5 390.5,822.1 398.5,825.5 406.5,827.1 414.5,835.1 422.5,849.7 430.5,848.7 438.5,853.1 446.5,857.1 454.5,847.5 462.5,846.1 470.5,852.7 478.5,856.7 486.5,860.1 494.5,863.2 502.5,858.5 510.5,865.2 518.5,849.1 526.5,842.7 534.5,847.5 542.5,854.5 550.5,856.1 558.5,853.1 566.5,848.5 574.5,856.7 582.5,858.5 590.5,860.1 598.5,864.2 606.5,861.7 614.5,875.6 622.5,878.8 630.5,878.8 638.5,877.8 646.5,867.8 654.5,870.2 662.5,881.8 670.5,881.8 678.5,886.8 686.5,884.8 694.5,888.2 702.5,893.6 710.5,893.8 718.5,897.2 726.5,888.8 734.5,883.8 742.5,883.8 750.5,892.2 758.5,890.8 766.5,893.2 774.5,884.2 782.5,877.8 790.5,877.8 798.5,866.2 806.5,865.8 814.5,851.1 822.5,848.7 830.5,848.7 838.5,859.1 846.5,863.2 854.5,852.5 862.5,842.7 870.5,845.1 878.5,850.5 886.5,855.5 894.5,857.1 902.5,867.2 910.5,865.8 918.5,861.1 926.5,860.7 934.5,854.1 942.5,853.5 950.5,853.5 958.5,861.1 966.5,856.2 974.5,854.5 982.5,853.9 990.5,861.7 998.5,856.1 1006.5,856.3 1014.5,858.2 1022.5,866.5 1030.5,871.6 1038.5,871.6 1046.5,860.6 1054.5,861.1 1062.5,866.5 1070.5,869.2 1078.5,871.6 1086.5,867.0 1094.5,867.0 1102.5,863.3 1110.5,862.8 1118.5,862.8 1126.5,862.8 1134.5,863.9 1142.5,847.6 1150.5,849.7 1158.5,849.1 1166.5,857.2 1174.5,850.8 1182.5,855.0 1190.5,850.8 1198.5,856.7 1206.5,856.7 1214.5,853.9 1222.5,849.1 1230.5,849.1 1238.5,857.8 1246.5,861.5 1254.5,861.7 1262.5,861.7 1270.5,868.1 1278.5,863.7 1286.5,866.1 1294.5,869.4 1302.5,869.8" fill="none" stroke="#1e90ff" stroke-width="2" stroke-linejoin="round" shape-rendering="crispEdges"/>
</g>
<g shape-rendering="crispEdges" fill="#000">
<rect x="0" y="21" width="1650" height="1"/>
<rect x="1649" y="21" width="1" height="902"/>
<rect x="0" y="624" width="1650" height="1"/>
<rect x="0" y="626" width="1650" height="1"/>
<rect x="0" y="782" width="1650" height="1"/>
<rect x="0" y="784" width="1650" height="1"/>
<rect x="0" y="922" width="1650" height="1"/>
<rect x="1649" y="625" width="1" height="1" fill="#fff"/>
<rect x="1649" y="783" width="1" height="1" fill="#fff"/>
<polygon points="1310,22 1322,22 1316,27" shape-rendering="auto"/>
<rect x="54" y="923" width="1" height="3"/>
<rect x="118" y="923" width="1" height="3"/>
<rect x="182" y="923" width="1" height="3"/>
<rect x="246" y="923" width="1" height="3"/>
<rect x="310" y="923" width="1" height="3"/>
<rect x="374" y="923" width="1" height="3"/>
<rect x="438" y="923" width="1" height="3"/>
<rect x="502" y="923" width="1" height="3"/>
<rect x="566" y="923" width="1" height="3"/>
<rect x="630" y="923" width="1" height="3"/>
<rect x="694" y="923" width="1" height="3"/>
<rect x="758" y="923" width="1" height="3"/>
<rect x="822" y="923" width="1" height="3"/>
<rect x="886" y="923" width="1" height="3"/>
<rect x="950" y="923" width="1" height="3"/>
<rect x="1014" y="923" width="1" height="3"/>
<rect x="1078" y="923" width="1" height="3"/>
<rect x="1142" y="923" width="1" height="3"/>
<rect x="1206" y="923" width="1" height="3"/>
<rect x="1270" y="923" width="1" height="3"/>
</g>
<rect x="1650" y="27" width="2" height="1" fill="#000" shape-rendering="crispEdges"/>
<text x="1655.3" y="30.9" font-size="9.1" fill="#000" text-anchor="start" >0.73260</text>
<rect x="1650" y="60" width="2" height="1" fill="#000" shape-rendering="crispEdges"/>
<text x="1655.3" y="63.9" font-size="9.1" fill="#000" text-anchor="start" >0.72975</text>
<rect x="1650" y="93" width="2" height="1" fill="#000" shape-rendering="crispEdges"/>
<text x="1655.3" y="96.9" font-size="9.1" fill="#000" text-anchor="start" >0.72690</text>
<rect x="1650" y="126" width="2" height="1" fill="#000" shape-rendering="crispEdges"/>
<text x="1655.3" y="129.9" font-size="9.1" fill="#000" text-anchor="start" >0.72405</text>
<rect x="1650" y="159" width="2" height="1" fill="#000" shape-rendering="crispEdges"/>
<text x="1655.3" y="162.9" font-size="9.1" fill="#000" text-anchor="start" >0.72120</text>
<rect x="1650" y="192" width="2" height="1" fill="#000" shape-rendering="crispEdges"/>
<text x="1655.3" y="195.9" font-size="9.1" fill="#000" text-anchor="start" >0.71835</text>
<rect x="1650" y="225" width="2" height="1" fill="#000" shape-rendering="crispEdges"/>
<text x="1655.3" y="228.9" font-size="9.1" fill="#000" text-anchor="start" >0.71555</text>
<rect x="1650" y="258" width="2" height="1" fill="#000" shape-rendering="crispEdges"/>
<text x="1655.3" y="261.9" font-size="9.1" fill="#000" text-anchor="start" >0.71270</text>
<rect x="1650" y="291" width="2" height="1" fill="#000" shape-rendering="crispEdges"/>
<text x="1655.3" y="294.9" font-size="9.1" fill="#000" text-anchor="start" >0.70985</text>
<rect x="1650" y="324" width="2" height="1" fill="#000" shape-rendering="crispEdges"/>
<text x="1655.3" y="327.9" font-size="9.1" fill="#000" text-anchor="start" >0.70700</text>
<rect x="1650" y="357" width="2" height="1" fill="#000" shape-rendering="crispEdges"/>
<text x="1655.3" y="360.9" font-size="9.1" fill="#000" text-anchor="start" >0.70415</text>
<rect x="1650" y="390" width="2" height="1" fill="#000" shape-rendering="crispEdges"/>
<text x="1655.3" y="393.9" font-size="9.1" fill="#000" text-anchor="start" >0.70130</text>
<rect x="1650" y="423" width="2" height="1" fill="#000" shape-rendering="crispEdges"/>
<text x="1655.3" y="426.9" font-size="9.1" fill="#000" text-anchor="start" >0.69845</text>
<rect x="1650" y="456" width="2" height="1" fill="#000" shape-rendering="crispEdges"/>
<text x="1655.3" y="459.9" font-size="9.1" fill="#000" text-anchor="start" >0.69560</text>
<rect x="1650" y="489" width="2" height="1" fill="#000" shape-rendering="crispEdges"/>
<text x="1655.3" y="492.9" font-size="9.1" fill="#000" text-anchor="start" >0.69275</text>
<rect x="1650" y="522" width="2" height="1" fill="#000" shape-rendering="crispEdges"/>
<text x="1655.3" y="525.9" font-size="9.1" fill="#000" text-anchor="start" >0.68995</text>
<rect x="1650" y="588" width="2" height="1" fill="#000" shape-rendering="crispEdges"/>
<text x="1655.3" y="591.9" font-size="9.1" fill="#000" text-anchor="start" >0.68425</text>
<rect x="1650" y="621" width="2" height="1" fill="#000" shape-rendering="crispEdges"/>
<text x="1655.3" y="624.9" font-size="9.1" fill="#000" text-anchor="start" >0.68140</text>
<rect x="1651" y="468" width="41" height="11" fill="#ff0000" shape-rendering="crispEdges"/>
<text x="1655.3" y="476.9" font-size="9.1" fill="#fff" text-anchor="start" >0.69410</text>
<rect x="1651" y="498" width="41" height="11" fill="#ff0000" shape-rendering="crispEdges"/>
<text x="1655.3" y="506.9" font-size="9.1" fill="#fff" text-anchor="start" >0.69146</text>
<rect x="1643" y="501" width="6" height="6" fill="#ff0000" shape-rendering="crispEdges"/><rect x="1645" y="503" width="2" height="2" fill="#fff" shape-rendering="crispEdges"/>
<rect x="1651" y="528" width="41" height="11" fill="#ffa500" shape-rendering="crispEdges"/>
<text x="1655.3" y="536.9" font-size="9.1" fill="#fff" text-anchor="start" >0.68891</text>
<rect x="1643" y="531" width="6" height="6" fill="#ffa500" shape-rendering="crispEdges"/><rect x="1645" y="533" width="2" height="2" fill="#fff" shape-rendering="crispEdges"/>
<rect x="1651" y="547" width="41" height="11" fill="#000" shape-rendering="crispEdges"/>
<text x="1655.3" y="555.9" font-size="9.1" fill="#fff" text-anchor="start" >0.68727</text>
<rect x="1651" y="575" width="41" height="11" fill="#0000ff" shape-rendering="crispEdges"/>
<text x="1655.3" y="583.9" font-size="9.1" fill="#fff" text-anchor="start" >0.68488</text>
<rect x="1643" y="578" width="6" height="6" fill="#0000ff" shape-rendering="crispEdges"/><rect x="1645" y="580" width="2" height="2" fill="#fff" shape-rendering="crispEdges"/>
<rect x="1651" y="607" width="41" height="11" fill="#0000ff" shape-rendering="crispEdges"/>
<text x="1655.3" y="615.9" font-size="9.1" fill="#fff" text-anchor="start" >0.68215</text>
<rect x="1643" y="610" width="6" height="6" fill="#0000ff" shape-rendering="crispEdges"/><rect x="1645" y="612" width="2" height="2" fill="#fff" shape-rendering="crispEdges"/>
<text x="1653" y="636.1" font-size="9.1" fill="#000" text-anchor="start" >0.003672</text>
<rect x="1650" y="628" width="1" height="1" fill="#000" shape-rendering="crispEdges"/>
<rect x="1650" y="785" width="1" height="1" fill="#000" shape-rendering="crispEdges"/>
<rect x="1650" y="921" width="1" height="1" fill="#000" shape-rendering="crispEdges"/>
<rect x="1650" y="677" width="2" height="1" fill="#000" shape-rendering="crispEdges"/>
<text x="1653" y="680.8" font-size="9.1" fill="#000" text-anchor="start" >0.00</text>
<text x="1653" y="779" font-size="9.1" fill="#000" text-anchor="start" >-0.007656</text>
<text x="1653.2" y="795" font-size="9.1" fill="#000" text-anchor="start" >100</text>
<text x="1652.2" y="817" font-size="9.1" fill="#000" text-anchor="start" >80</text>
<text x="1652.2" y="857" font-size="9.1" fill="#000" text-anchor="start" >50</text>
<text x="1652.2" y="905" font-size="9.1" fill="#000" text-anchor="start" >15</text>
<text x="1653.2" y="919" font-size="9.1" fill="#000" text-anchor="start" >0</text>
<text x="5.7" y="33" font-size="9.39" fill="#000" text-anchor="start" >AUDUSD-,H4&#160; 0.68748 0.68841 0.68722 0.68727</text>
<text x="-4.6" y="639" font-size="9.3" fill="#000" text-anchor="start" >MACD(12,26,9) -0.001283 -0.000682</text>
<text x="-6.5" y="797" font-size="9.3" fill="#000" text-anchor="start" >RSI(14) 37.8425</text>
<text x="-11" y="934.7" font-size="9.5" fill="#000" text-anchor="start" >23 May 2022</text>
<text x="53" y="934.7" font-size="9.5" fill="#000" text-anchor="start" >24 May 20:00</text>
<text x="117" y="934.7" font-size="9.5" fill="#000" text-anchor="start" >26 May 04:00</text>
<text x="181" y="934.7" font-size="9.5" fill="#000" text-anchor="start" >27 May 12:00</text>
<text x="245" y="934.7" font-size="9.5" fill="#000" text-anchor="start" >30 May 20:00</text>
<text x="309" y="934.7" font-size="9.5" fill="#000" text-anchor="start" >1 Jun 04:00</text>
<text x="373" y="934.7" font-size="9.5" fill="#000" text-anchor="start" >2 Jun 12:00</text>
<text x="437" y="934.7" font-size="9.5" fill="#000" text-anchor="start" >5 Jun 23:00</text>
<text x="501" y="934.7" font-size="9.5" fill="#000" text-anchor="start" >7 Jun 04:00</text>
<text x="565" y="934.7" font-size="9.5" fill="#000" text-anchor="start" >8 Jun 12:00</text>
<text x="629" y="934.7" font-size="9.5" fill="#000" text-anchor="start" >9 Jun 20:00</text>
<text x="693" y="934.7" font-size="9.5" fill="#000" text-anchor="start" >13 Jun 04:00</text>
<text x="757" y="934.7" font-size="9.5" fill="#000" text-anchor="start" >14 Jun 12:00</text>
<text x="821" y="934.7" font-size="9.5" fill="#000" text-anchor="start" >15 Jun 20:00</text>
<text x="885" y="934.7" font-size="9.5" fill="#000" text-anchor="start" >17 Jun 04:00</text>
<text x="949" y="934.7" font-size="9.5" fill="#000" text-anchor="start" >20 Jun 12:00</text>
<text x="1013" y="934.7" font-size="9.5" fill="#000" text-anchor="start" >21 Jun 20:00</text>
<text x="1077" y="934.7" font-size="9.5" fill="#000" text-anchor="start" >23 Jun 04:00</text>
<text x="1141" y="934.7" font-size="9.5" fill="#000" text-anchor="start" >24 Jun 12:00</text>
<text x="1205" y="934.7" font-size="9.5" fill="#000" text-anchor="start" >27 Jun 20:00</text>
<text x="1269" y="934.7" font-size="9.5" fill="#000" text-anchor="start" >29 Jun 04:00</text>
<rect x="0" y="0" width="1696" height="17" fill="#f0f0f0"/>
<rect x="0" y="17" width="1696" height="1" fill="#c4c4c4" shape-rendering="crispEdges"/>
<rect x="0" y="18" width="1696" height="1" fill="#6e6e6e" shape-rendering="crispEdges"/>
<rect x="0" y="19" width="1696" height="1" fill="#b0b0b0" shape-rendering="crispEdges"/>
<g clip-path="url(#ctb)">
<circle cx="0" cy="12" r="1.6" fill="#d8a020"/>
<rect x="6" y="0" width="1" height="15.5" fill="#fff"/><rect x="0" y="15" width="7" height="1" fill="#fdfdfd"/>
<rect x="10" y="0" width="1" height="14.5" fill="#a0a0a0" shape-rendering="crispEdges"/>
<path d="M20.3 -2h11.6v12.2h-11.6z" fill="#fff" stroke="#8a8a8a" stroke-width="1"/>
<path d="M22.3 0.5h6M22.3 3.4h6M22.3 5.8h6" stroke="#9a9a9a" stroke-width="0.9"/>
<path d="M28.2 3.000000000000001h3.6v4h4v3.6h-4v4h-3.6v-4h-4v-3.6h4z" fill="#22dd22" stroke="#169c16" stroke-width="0.9"/>
<g stroke="#111" stroke-width="1.15" fill="none" stroke-linecap="butt">
<path d="M39 2.5h5.8M46.4 2.5h7.4M42.9 0v8.8M39.8 8.3h2.6"/>
<path d="M41.2 3.4l-1.6 3.6M44.6 3.9v2.6" stroke="#2a2a2a"/>
<path d="M48.5 2.5v4q0 1.6-0.8 2.4" stroke="#7a4a30"/><path d="M52.6 2.5v6.3" stroke="#999"/>
<path d="M53.7 3v4.5l2-2.3M59.6 0v8.1M56.3 8.5h3.3"/>
<rect x="64.3" y="-1" width="9.4" height="2" fill="#111" stroke="none"/>
<path d="M64.8 0v4.5M73.2 0v4.5M64.3 2.5h9.4M64.3 4.5h9.4M63 6.4h12M68.9 0v8.8"/>
</g>
<path d="M87 6.2L93.5 -2L102.6 4.6L97 12.4Z" fill="#e6b41e" stroke="#b98a10" stroke-width="0.8"/>
<path d="M88.2 7.4L97 13.2L102.4 5.8" fill="none" stroke="#a87808" stroke-width="1.1"/>
<path d="M92 1L99 6" stroke="#f6dc70" stroke-width="1.4"/>
<rect x="117.4" y="-2" width="10.8" height="8" fill="#2f8ff0"/><rect x="121.5" y="-2" width="1.6" height="8" fill="#9cd0ff"/>
<path d="M118 12.4q-3 0-2.8-2.4q0.2-2 2.4-2q0.6-2.6 3.6-2.6q2.6 0 3.6 2q1.2-0.8 2.6-0.2q1.4 0.7 1.3 2.2q2 0.3 1.9 1.7q-0.2 1.3-2 1.3z" fill="#eef2fa" stroke="#6078b0" stroke-width="1.1"/>
<defs><radialGradient id="gsig" gradientUnits="userSpaceOnUse" cx="151" cy="4.7" r="7.8"><stop offset="0" stop-color="#f4f8f4"/><stop offset="0.5" stop-color="#cfe6d2"/><stop offset="0.8" stop-color="#a4cfaa"/><stop offset="1" stop-color="#6cb276"/></radialGradient></defs>
<path d="M151 4.7L151 12.5A7.8 7.8 0 0 0 154.66 -2.19Z" fill="url(#gsig)"/>
<path d="M151 7.300000000000001A2.6 2.6 0 1 1 152.22 2.40" fill="none" stroke="#4a78dc" stroke-width="1.1" opacity="0.9"/>
<path d="M151 9.5A4.8 4.8 0 1 1 153.25 0.46" fill="none" stroke="#5a86e0" stroke-width="1.1" opacity="0.8"/>
<path d="M151 12.0A7.3 7.3 0 1 1 154.43 -1.75" fill="none" stroke="#7a9ce6" stroke-width="1.1" opacity="0.7"/>
<circle cx="151" cy="4.7" r="4.8" fill="none" stroke="#88b8a0" stroke-width="0.9" opacity="0.55"/>
<path d="M151.3 4.7v7.9" stroke="#18a018" stroke-width="1.5"/>
<circle cx="151" cy="4.7" r="1.6" fill="#2454cc"/>
<path d="M170.6 3.4L185.8 3.4L181 10L178.6 12.6L175.4 12.2Z" fill="#f6dc52" stroke="#c8a012" stroke-width="0.8"/>
<path d="M174 4.6L178 10.4" stroke="#fdf2a8" stroke-width="1.6"/>
<path d="M170.2 1.2Q170.4 -2.6 178.4 -2.8Q186.6 -2.6 186.8 1.2Q186.4 3.6 183 4.2Q178.4 5 173.8 4.2Q170.4 3.4 170.2 1.2Z" fill="#58b4e4" stroke="#2a7cb8" stroke-width="0.9"/>
<ellipse cx="178.6" cy="0.2" rx="5.2" ry="1.9" fill="#a8dcf4"/>
<circle cx="182.4" cy="8.8" r="4" fill="#dc2410"/><circle cx="182.4" cy="8.8" r="3.2" fill="#ea3a1c"/><rect x="181" y="7.4" width="2.8" height="2.8" fill="#fff"/>
<g stroke="#111" stroke-width="1.15" fill="none">
<path d="M192.9 0v9M201 0v9M192.4 1h9M192.4 3.5h9M192.4 6h9M192.4 8.5h9" stroke-width="1" shape-rendering="crispEdges"/>
<path d="M203.9 2.4h4.8M203.9 7.7h4.4M208.7 0.3h5.8M213.5 0v8.2M211 8.6h2.5"/>
<path d="M207.6 3.6l-3.4 3.8M207 5.6l1.6 2.4M210.3 1v4q-0.2 2.6-1.6 3.8" stroke="#2a2a2a"/>
<rect x="215.4" y="-1" width="11.4" height="1.8" fill="#111" stroke="none"/>
<path d="M218.4 2.4l-1.2 1.4M223.6 2.4l1.4 1.4M216.8 4.5q4 2.4 9.4 4.1M225.4 4.5q-4 3-9.6 4.1" stroke="#2a2a2a"/>
<path d="M229.3 0v2.4h7.2v-2.4M229.3 0.4h7.2M228.3 3.5h9.4M237.6 3.5v4.6M234.2 8.6h3.4"/>
<path d="M231 3.8l-2.8 3M233.2 4l-3.6 4.4M235.6 4l-3.6 4.4" stroke="#2a2a2a"/>
</g>
<rect x="246" y="0" width="1" height="16.5" fill="#a0a0a0" shape-rendering="crispEdges"/><rect x="247" y="0" width="1" height="16.5" fill="#fff" shape-rendering="crispEdges"/>
<rect x="250" y="1" width="3" height="1" fill="#a8a8a8" shape-rendering="crispEdges"/>
<rect x="250" y="3" width="3" height="1" fill="#a8a8a8" shape-rendering="crispEdges"/>
<rect x="250" y="5" width="3" height="1" fill="#a8a8a8" shape-rendering="crispEdges"/>
<rect x="250" y="7" width="3" height="1" fill="#a8a8a8" shape-rendering="crispEdges"/>
<rect x="250" y="9" width="3" height="1" fill="#a8a8a8" shape-rendering="crispEdges"/>
<rect x="250" y="11" width="3" height="1" fill="#a8a8a8" shape-rendering="crispEdges"/>
<rect x="250" y="13" width="3" height="1" fill="#a8a8a8" shape-rendering="crispEdges"/>
<path d="M264.5 0V12.6M261.8 10.4H274.5" stroke="#555" stroke-width="1.1" fill="none"/>
<path d="M273.5 8.6L276.0 10.4L273.5 12.2Z" fill="#555"/>
<circle cx="264.5" cy="0.3" r="1" fill="#555"/>
<path d="M270.6 0V8.2M270.6 1.3h2.2M268.3 7.5h2.3" stroke="#18a018" stroke-width="1.2" fill="none"/>
<rect x="285" y="0" width="23.5" height="15" fill="#f8f8f8"/>
<rect x="284" y="0" width="1" height="15" fill="#b0b0b0" shape-rendering="crispEdges"/>
<path d="M292.5 0V12.6M289.8 10.4H302.5" stroke="#555" stroke-width="1.1" fill="none"/>
<path d="M301.5 8.6L304.0 10.4L301.5 12.2Z" fill="#555"/>
<circle cx="292.5" cy="0.3" r="1" fill="#555"/>
<rect x="296.4" y="-1" width="4.4" height="7.6" fill="#2fd82f" stroke="#18a018" stroke-width="0.7"/><path d="M298.6 6.6v2" stroke="#18a018" stroke-width="1.2"/>
<path d="M320.5 0V12.6M317.8 10.4H330.5" stroke="#555" stroke-width="1.1" fill="none"/>
<path d="M329.5 8.6L332.0 10.4L329.5 12.2Z" fill="#555"/>
<circle cx="320.5" cy="0.3" r="1" fill="#555"/>
<path d="M319 7.8Q322.5 5.5 324.5 3.2Q325.8 1.6 327 2.8Q329 5 331 6.4" stroke="#18a018" stroke-width="1.2" fill="none"/>
<rect x="341" y="0" width="1" height="14.5" fill="#a0a0a0" shape-rendering="crispEdges"/>
<path d="M359.3 6.9L365 11.6" stroke="#c89a18" stroke-width="2.8" stroke-linecap="round"/>
<path d="M359.6 6.6L365 11" stroke="#f2d860" stroke-width="1.1" stroke-linecap="round"/>
<circle cx="356" cy="2.4" r="5.5" fill="#d4ecfa" stroke="#3a78c8" stroke-width="1.2"/>
<path d="M353 2.9h6M356 -1v6.8" stroke="#2a68b8" stroke-width="1.5"/>
<path d="M387.1 6.9L392.8 11.6" stroke="#c89a18" stroke-width="2.8" stroke-linecap="round"/>
<path d="M387.40000000000003 6.6L392.8 11" stroke="#f2d860" stroke-width="1.1" stroke-linecap="round"/>
<circle cx="383.8" cy="2.4" r="5.5" fill="#d4ecfa" stroke="#3a78c8" stroke-width="1.2"/>
<path d="M380.8 2.9h6" stroke="#2a68b8" stroke-width="1.5"/>
<rect x="406.2" y="-2.8" width="7.6" height="7.6" fill="#3aa61c"/>
<rect x="407.4" y="-0.3999999999999999" width="5.2" height="4" fill="#fff"/><rect x="408.4" y="1.0" width="3.2" height="1" fill="#9ad27c"/>
<rect x="414.4" y="-2.8" width="7.6" height="7.6" fill="#1d50c8"/>
<rect x="415.59999999999997" y="-0.3999999999999999" width="5.2" height="4" fill="#fff"/><rect x="416.59999999999997" y="1.0" width="3.2" height="1" fill="#9cb4ee"/>
<rect x="406.2" y="5" width="7.6" height="7.6" fill="#1d50c8"/>
<rect x="407.4" y="7.4" width="5.2" height="4" fill="#fff"/><rect x="408.4" y="8.8" width="3.2" height="1" fill="#9cb4ee"/>
<rect x="414.4" y="5" width="7.6" height="7.6" fill="#3aa61c"/>
<rect x="415.59999999999997" y="7.4" width="5.2" height="4" fill="#fff"/><rect x="416.59999999999997" y="8.8" width="3.2" height="1" fill="#9ad27c"/>
<rect x="431" y="0" width="1" height="14.5" fill="#a0a0a0" shape-rendering="crispEdges"/>
<rect x="437" y="0" width="24" height="15" fill="#f8f8f8"/>
<rect x="436" y="0" width="1" height="15" fill="#b0b0b0" shape-rendering="crispEdges"/>
<path d="M444.6 0V12.6M441.90000000000003 10.4H454.6" stroke="#555" stroke-width="1.1" fill="none"/>
<path d="M453.6 8.6L456.1 10.4L453.6 12.2Z" fill="#555"/>
<circle cx="444.6" cy="0.3" r="1" fill="#555"/>
<path d="M449.2 1.2L452.8 4.4L449.2 7.6Z" fill="#30d030" stroke="#18a018" stroke-width="0.8"/>
<rect x="465" y="0" width="24" height="15" fill="#f8f8f8"/>
<rect x="464" y="0" width="1" height="15" fill="#b0b0b0" shape-rendering="crispEdges"/>
<path d="M472.6 0V12.6M469.90000000000003 10.4H482.6" stroke="#555" stroke-width="1.1" fill="none"/>
<path d="M481.6 8.6L484.1 10.4L481.6 12.2Z" fill="#555"/>
<circle cx="472.6" cy="0.3" r="1" fill="#555"/>
<path d="M478.4 0V8.6" stroke="#2060b0" stroke-width="1.3"/>
<path d="M479.4 4.5L482.6 2.4V3.9H484.2V5.1H482.6V6.6Z" fill="#e04818"/>
<rect x="493" y="0" width="1" height="14.5" fill="#a0a0a0" shape-rendering="crispEdges"/>
<path d="M503.4 -2h11.6v12.2h-11.6z" fill="#fff" stroke="#8a8a8a" stroke-width="1"/>
<path d="M505.4 0.5h6M505.4 3.4h6M505.4 5.8h6" stroke="#9a9a9a" stroke-width="0.9"/>
<path d="M511.2 3.000000000000001h3.6v4h4v3.6h-4v4h-3.6v-4h-4v-3.6h4z" fill="#22dd22" stroke="#169c16" stroke-width="0.9"/>
<path d="M524.7 3.9h5.4l-2.7 3.4z" fill="#000"/>
<circle cx="548.9" cy="4.8" r="7.2" fill="#fff" stroke="#1868c8" stroke-width="2.3"/>
<circle cx="548.9" cy="4.8" r="8.3" fill="none" stroke="#0c4a9c" stroke-width="0.6"/>
<path d="M548.4 0.6V4.9H552" stroke="#333" stroke-width="1.1" fill="none"/>
<path d="M563.8 3.9h5.4l-2.7 3.4z" fill="#000"/>
<rect x="580.5" y="-2" width="15" height="13.6" fill="#fff" stroke="#3a6cc4" stroke-width="1.2"/>
<path d="M580.5 6.5h15" stroke="#6c94d8" stroke-width="1"/>
<path d="M582.2 4.4h1.6l1.6-1.4h1.6l1.4 0.8h1.6l1.6-1.2h1.6" stroke="#b03010" stroke-width="1.1" fill="none"/>
<path d="M583 9.6h1.6l1.4-1h1.4l1.6-1.4l1.6 1.2l1.4 1.2" stroke="#18a018" stroke-width="1.1" fill="none"/>
<path d="M603 3.9h5.4l-2.7 3.4z" fill="#000"/>
<rect x="614" y="0" width="1" height="16.5" fill="#a0a0a0" shape-rendering="crispEdges"/><rect x="615" y="0" width="1" height="16.5" fill="#fff" shape-rendering="crispEdges"/>
<rect x="618" y="1" width="3" height="1" fill="#a8a8a8" shape-rendering="crispEdges"/>
<rect x="618" y="3" width="3" height="1" fill="#a8a8a8" shape-rendering="crispEdges"/>
<rect x="618" y="5" width="3" height="1" fill="#a8a8a8" shape-rendering="crispEdges"/>
<rect x="618" y="7" width="3" height="1" fill="#a8a8a8" shape-rendering="crispEdges"/>
<rect x="618" y="9" width="3" height="1" fill="#a8a8a8" shape-rendering="crispEdges"/>
<rect x="618" y="11" width="3" height="1" fill="#a8a8a8" shape-rendering="crispEdges"/>
<rect x="618" y="13" width="3" height="1" fill="#a8a8a8" shape-rendering="crispEdges"/>
<rect x="625" y="0" width="24" height="15" fill="#f8f8f8"/>
<rect x="624" y="0" width="1" height="15" fill="#b0b0b0" shape-rendering="crispEdges"/>
<path d="M632.2 -2V8L634.5 6.5L637.2 11.9L639 11.1L636.3 5.8L640.2 5.4Z" fill="#555"/>
<path d="M657 5.4h6.4M665.4 5.4h6.6M664.4 0v4.4M664.4 6.4v6.2" stroke="#555" stroke-width="1.1"/>
<rect x="681" y="0" width="1" height="14.5" fill="#a0a0a0" shape-rendering="crispEdges"/>
<path d="M698.5 0V12" stroke="#555" stroke-width="1.1"/>
<path d="M721 5.4H733" stroke="#555" stroke-width="1.1"/>
<path d="M749 11.9L761 0" stroke="#555" stroke-width="1.1"/>
<path d="M775 7L782.5 -0.5M777 11.5L788.5 0.5M780 12L789 3" stroke="#555" stroke-width="0.9"/>
<path d="M778.4 4.4l-1.2 5.8M780.6 2.6l-1.4 6.6M782.8 1l-1.4 6.4M785 0l-1.2 5.4M787 -1l-1 4.6" stroke="#555" stroke-width="0.9"/>
<text x="785.6" y="13.8" font-size="6.6" font-weight="bold" fill="#444">E</text>
<path d="M804.2 1.4H817" stroke="#555" stroke-width="1" stroke-dasharray="1 1"/>
<path d="M804.2 5.5H817" stroke="#555" stroke-width="1" stroke-dasharray="1 1"/>
<path d="M804.2 9.6H813" stroke="#555" stroke-width="1" stroke-dasharray="1 1"/>
<text x="814" y="13.8" font-size="6.6" font-weight="bold" fill="#444">F</text>
<text x="833.8" y="10" font-size="12.6" fill="#5a5a5a" stroke="#5a5a5a" stroke-width="0.3">A</text>
<rect x="861.4" y="1.4" width="11.2" height="10.2" fill="none" stroke="#555" stroke-width="1" stroke-dasharray="1 1"/>
<path d="M863.4 2.8h7.4M867.1 2.8v7.4" stroke="#555" stroke-width="1.25" fill="none"/>
<path d="M887.8 3L891.5 -1L895.2 3ZM894.6 8L898.5 12.2L902.4 8Z" fill="#555"/>
<path d="M890.5 6.4L892.5 8.2L896.8 3.4" stroke="#555" stroke-width="1.2" fill="none"/>
<path d="M908.8 3.9h5.4l-2.7 3.4z" fill="#000"/>
<rect x="920" y="0" width="1" height="16.5" fill="#a0a0a0" shape-rendering="crispEdges"/><rect x="921" y="0" width="1" height="16.5" fill="#fff" shape-rendering="crispEdges"/>
<rect x="924" y="1" width="3" height="1" fill="#a8a8a8" shape-rendering="crispEdges"/>
<rect x="924" y="3" width="3" height="1" fill="#a8a8a8" shape-rendering="crispEdges"/>
<rect x="924" y="5" width="3" height="1" fill="#a8a8a8" shape-rendering="crispEdges"/>
<rect x="924" y="7" width="3" height="1" fill="#a8a8a8" shape-rendering="crispEdges"/>
<rect x="924" y="9" width="3" height="1" fill="#a8a8a8" shape-rendering="crispEdges"/>
<rect x="924" y="11" width="3" height="1" fill="#a8a8a8" shape-rendering="crispEdges"/>
<rect x="924" y="13" width="3" height="1" fill="#a8a8a8" shape-rendering="crispEdges"/>
<rect x="1071.5" y="0" width="24" height="15" fill="#f8f8f8"/>
<rect x="1070.5" y="0" width="1" height="15" fill="#b0b0b0" shape-rendering="crispEdges"/>
<text x="935.2" y="8.7" font-size="9.5" fill="#4a4a4a">M1</text>
<text x="963.4" y="8.7" font-size="9.5" fill="#4a4a4a">M5</text>
<text x="988.9" y="8.7" font-size="9.5" fill="#4a4a4a">M15</text>
<text x="1017" y="8.7" font-size="9.5" fill="#4a4a4a">M30</text>
<text x="1048.4" y="8.7" font-size="9.5" fill="#4a4a4a">H1</text>
<text x="1075.6" y="8.7" font-size="9.5" fill="#4a4a4a">H4</text>
<text x="1104.2" y="8.7" font-size="9.5" fill="#4a4a4a">D1</text>
<text x="1132" y="8.7" font-size="9.5" fill="#4a4a4a">W1</text>
<text x="1158.2" y="8.7" font-size="9.5" fill="#4a4a4a">MN</text>
<rect x="1181" y="0" width="1" height="16" fill="#a0a0a0" shape-rendering="crispEdges"/>
<rect x="922" y="16" width="260" height="1" fill="#d8d8d8"/>
<path d="M1648 5.7L1644 10" stroke="#2460d0" stroke-width="2.2" stroke-linecap="round"/>
<circle cx="1651.4" cy="2.2" r="4.2" fill="#f8f8ff" stroke="#2a66d8" stroke-width="1.2"/>
<path d="M1668.4 6.5q0-4.4 5.6-4.4q5.6 0 5.6 4.4q0 4-5.6 4.2l-1.4 0.1l-1 2.4l-0.4-2.6q-2.8-0.8-2.8-4.100z" fill="#e2e4f0" stroke="#b8b8b8" stroke-width="0.9"/>
<circle cx="1682.4" cy="2.2" r="8.3" fill="#e03418"/>
<path d="M1682.4 -2V6.4M1679.8 6.6H1685" stroke="#fff" stroke-width="1.3"/>
</g>
<rect x="1694" y="19" width="1" height="923" fill="#f8f8f8"/><rect x="1695" y="19" width="1" height="923" fill="#e4e4e4"/>
</svg></body></html>
